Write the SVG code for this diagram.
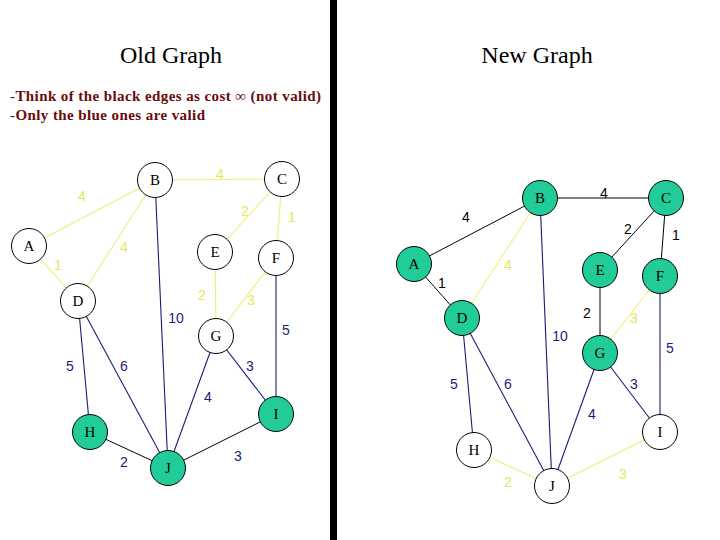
<svg xmlns="http://www.w3.org/2000/svg" width="720" height="540" viewBox="0 0 720 540">
<style>
.y{stroke:#EEEE77;stroke-width:1.1;fill:none}
.k{stroke:#000;stroke-width:1;fill:none}
.b{stroke:#1C1C78;stroke-width:1.1;fill:none}
.n{stroke:#000;stroke-width:1}
.w{fill:#fff}
.g{fill:#22CC99}
.nl{font-family:"Liberation Serif","Times New Roman",serif;font-size:15px;text-anchor:middle;fill:#000}
.el{font-family:"Liberation Sans",Arial,sans-serif;font-size:14px;text-anchor:middle}
.ly{fill:#E6E65C}
.lk{fill:#000}
.lb{fill:#1C1C78}
.t{font-family:"Liberation Serif","Times New Roman",serif;font-size:24px;text-anchor:middle;fill:#000}
.r{font-family:"Liberation Serif","Times New Roman",serif;font-size:15px;font-weight:bold;fill:#6B0A0A}
</style>
<rect width="720" height="540" fill="#fff"/>
<rect x="330" y="0" width="7" height="540" fill="#000"/>
<text class="t" x="171" y="63">Old Graph</text>
<text class="t" x="537" y="63">New Graph</text>
<text class="r" x="10" y="101" textLength="311" lengthAdjust="spacing"><tspan font-weight="normal">-</tspan>Think of the black edges as cost <tspan font-weight="normal">∞</tspan> (not valid)</text>
<text class="r" x="10" y="120" textLength="195" lengthAdjust="spacing"><tspan font-weight="normal">-</tspan>Only the blue ones are valid</text>

<g id="connectors-old">
<line class="y" x1="29" y1="246" x2="155" y2="180"/>
<line class="y" x1="155" y1="180" x2="282" y2="179"/>
<line class="y" x1="155" y1="180" x2="78" y2="301"/>
<line class="y" x1="29" y1="246" x2="78" y2="301"/>
<line class="y" x1="282" y1="179" x2="215" y2="252"/>
<line class="y" x1="282" y1="179" x2="276" y2="258"/>
<line class="y" x1="215" y1="252" x2="216" y2="336"/>
<line class="y" x1="276" y1="258" x2="216" y2="336"/>
<line class="b" x1="155" y1="180" x2="168" y2="468"/>
<line class="b" x1="276" y1="258" x2="276" y2="414"/>
<line class="b" x1="78" y1="301" x2="90" y2="432"/>
<line class="b" x1="78" y1="301" x2="168" y2="468"/>
<line class="b" x1="216" y1="336" x2="168" y2="468"/>
<line class="b" x1="216" y1="336" x2="276" y2="414"/>
<line class="k" x1="90" y1="432" x2="168" y2="468"/>
<line class="k" x1="168" y1="468" x2="276" y2="414"/>
<g class="el">
<text class="ly" x="82" y="201">4</text>
<text class="ly" x="220" y="179">4</text>
<text class="ly" x="124" y="252">4</text>
<text class="ly" x="58" y="270">1</text>
<text class="ly" x="245" y="216">2</text>
<text class="ly" x="292" y="222">1</text>
<text class="ly" x="202" y="300">2</text>
<text class="ly" x="251" y="305">3</text>
<text class="lb" x="176" y="323">10</text>
<text class="lb" x="286" y="335">5</text>
<text class="lb" x="70" y="371">5</text>
<text class="lb" x="124" y="371">6</text>
<text class="lb" x="208" y="402">4</text>
<text class="lb" x="250" y="371">3</text>
<text class="lb" x="124" y="467">2</text>
<text class="lb" x="238" y="461">3</text>
</g>
</g>
<g id="old-A"><circle class="n w" cx="29" cy="246" r="17.5"/><text class="nl" x="29" y="251">A</text></g>
<g id="old-B"><circle class="n w" cx="155" cy="180" r="17.5"/><text class="nl" x="155" y="185">B</text></g>
<g id="old-C"><circle class="n w" cx="282" cy="179" r="17.5"/><text class="nl" x="282" y="184">C</text></g>
<g id="old-D"><circle class="n w" cx="78" cy="301" r="17.5"/><text class="nl" x="78" y="306">D</text></g>
<g id="old-E"><circle class="n w" cx="215" cy="252" r="17.5"/><text class="nl" x="215" y="257">E</text></g>
<g id="old-F"><circle class="n w" cx="276" cy="258" r="17.5"/><text class="nl" x="276" y="263">F</text></g>
<g id="old-G"><circle class="n w" cx="216" cy="336" r="17.5"/><text class="nl" x="216" y="341">G</text></g>
<g id="old-H"><circle class="n g" cx="90" cy="432" r="17.5"/><text class="nl" x="90" y="437">H</text></g>
<g id="old-I"><circle class="n g" cx="276" cy="414" r="17.5"/><text class="nl" x="276" y="419">I</text></g>
<g id="old-J"><circle class="n g" cx="168" cy="468" r="17.5"/><text class="nl" x="168" y="473">J</text></g>

<g id="connectors-new">
<line class="k" x1="414" y1="264" x2="540" y2="198"/>
<line class="k" x1="540" y1="198" x2="666" y2="198"/>
<line class="y" x1="540" y1="198" x2="462" y2="318"/>
<line class="k" x1="414" y1="264" x2="462" y2="318"/>
<line class="k" x1="666" y1="198" x2="600" y2="270"/>
<line class="k" x1="666" y1="198" x2="660" y2="276"/>
<line class="k" x1="600" y1="270" x2="600" y2="353"/>
<line class="y" x1="660" y1="276" x2="600" y2="353"/>
<line class="b" x1="540" y1="198" x2="552" y2="486"/>
<line class="b" x1="660" y1="276" x2="660" y2="432"/>
<line class="b" x1="462" y1="318" x2="474" y2="450"/>
<line class="b" x1="462" y1="318" x2="552" y2="486"/>
<line class="b" x1="600" y1="353" x2="552" y2="486"/>
<line class="b" x1="600" y1="353" x2="660" y2="432"/>
<line class="y" x1="474" y1="450" x2="552" y2="486"/>
<line class="y" x1="552" y1="486" x2="660" y2="432"/>
<g class="el">
<text class="lk" x="466" y="222">4</text>
<text class="lk" x="604" y="198">4</text>
<text class="ly" x="508" y="270">4</text>
<text class="lk" x="442" y="288">1</text>
<text class="lk" x="628" y="234">2</text>
<text class="lk" x="676" y="240">1</text>
<text class="lk" x="587" y="318">2</text>
<text class="ly" x="634" y="323">3</text>
<text class="lb" x="560" y="341">10</text>
<text class="lb" x="670" y="353">5</text>
<text class="lb" x="454" y="389">5</text>
<text class="lb" x="508" y="389">6</text>
<text class="lb" x="592" y="419">4</text>
<text class="lb" x="634" y="389">3</text>
<text class="ly" x="508" y="487">2</text>
<text class="ly" x="623" y="479">3</text>
</g>
</g>
<g id="new-A"><circle class="n g" cx="414" cy="264" r="17.5"/><text class="nl" x="414" y="269">A</text></g>
<g id="new-B"><circle class="n g" cx="540" cy="198" r="17.5"/><text class="nl" x="540" y="203">B</text></g>
<g id="new-C"><circle class="n g" cx="666" cy="198" r="17.5"/><text class="nl" x="666" y="203">C</text></g>
<g id="new-D"><circle class="n g" cx="462" cy="318" r="17.5"/><text class="nl" x="462" y="323">D</text></g>
<g id="new-E"><circle class="n g" cx="600" cy="270" r="17.5"/><text class="nl" x="600" y="275">E</text></g>
<g id="new-F"><circle class="n g" cx="660" cy="276" r="17.5"/><text class="nl" x="660" y="281">F</text></g>
<g id="new-G"><circle class="n g" cx="600" cy="353" r="17.5"/><text class="nl" x="600" y="358">G</text></g>
<g id="new-H"><circle class="n w" cx="474" cy="450" r="17.5"/><text class="nl" x="474" y="455">H</text></g>
<g id="new-I"><circle class="n w" cx="660" cy="432" r="17.5"/><text class="nl" x="660" y="437">I</text></g>
<g id="new-J"><circle class="n w" cx="552" cy="486" r="17.5"/><text class="nl" x="552" y="491">J</text></g>
</svg>
